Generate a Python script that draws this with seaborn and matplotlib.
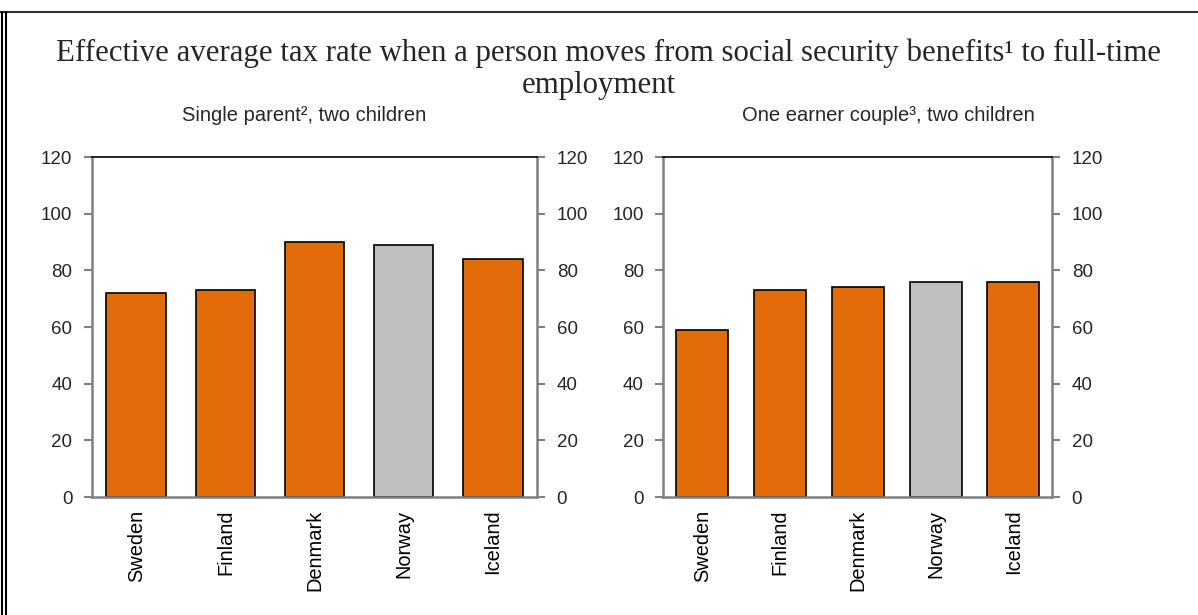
import matplotlib
matplotlib.use("Agg")
import matplotlib.pyplot as plt
from matplotlib.lines import Line2D
import seaborn as sns
import pandas as pd
import numpy as np

countries = ["Sweden", "Finland", "Denmark", "Norway", "Iceland"]
single_parent = [72, 73, 90, 89, 84]
one_earner = [59, 73, 74, 76, 76]
bar_colors = ["#E36C0A", "#E36C0A", "#E36C0A", "#BFBFBF", "#E36C0A"]
yticks = [0, 20, 40, 60, 80, 100, 120]
title_lines = ["Effective average tax rate when a person moves from social security benefits\u00b9 to full-time",
               "employment"]
sub_titles = ["Single parent\u00b2, two children", "One earner couple\u00b3, two children"]

sns.set_style("white")
plt.rcParams['font.family'] = ['Liberation Sans', 'DejaVu Sans']

fig = plt.figure(figsize=(11.98, 6.15), dpi=100)
W, H = 1198, 615
ax1 = fig.add_axes([91.7 / W, 1 - 497 / H, (537.3 - 91.7) / W, (497 - 157) / H])
ax2 = fig.add_axes([663.3 / W, 1 - 497 / H, (1052.3 - 663.3) / W, (497 - 157) / H])

palette = dict(zip(countries, bar_colors))
for ax, vals in [(ax1, single_parent), (ax2, one_earner)]:
    df = pd.DataFrame({"country": countries, "value": vals})
    sns.barplot(data=df, x="country", y="value", hue="country", palette=palette,
                order=countries, hue_order=countries, legend=False,
                width=0.67, edgecolor="black", linewidth=1.2, saturation=1, ax=ax)
    ax.set_xlim(-0.5, len(countries) - 0.5)
    ax.set_ylim(0, 120)
    ax.set_yticks(yticks)
    ax.set_yticklabels([str(v) for v in yticks])
    ax.set_xlabel("")
    ax.set_ylabel("")
    ax.set_xticks(range(len(countries)))
    ax.set_xticklabels(countries, rotation=90)
    ax.set_xticks(np.arange(-0.5, len(countries), 1.0), minor=True)
    ax.tick_params(axis="x", which="major", length=0, pad=9, labelsize=14.4, labelcolor="black")
    ax.tick_params(axis="x", which="minor", length=6, width=1.5, color="#808080", direction="out")
    ax.tick_params(axis="y", which="major", left=True, right=True, labelleft=True, labelright=True,
                   length=6, width=1.5, color="#808080", direction="out", labelsize=13.5, pad=8)
    for side in ["left", "right", "bottom"]:
        ax.spines[side].set_visible(True)
        ax.spines[side].set_color("#808080")
        ax.spines[side].set_linewidth(1.8)
    ax.spines["top"].set_visible(True)
    ax.spines["top"].set_color("black")
    ax.spines["top"].set_linewidth(1.2)
    ax.grid(False)

# subplot titles
fig.text(304 / W, 1 - 121 / H, sub_titles[0], ha="center", va="baseline", fontsize=14.5)
fig.text(888 / W, 1 - 121 / H, sub_titles[1], ha="center", va="baseline", fontsize=14.5)

# main title (two lines)
serif = ["Liberation Serif", "DejaVu Serif"]
fig.text(609 / W, 1 - 60.7 / H, title_lines[0], ha="center", va="baseline", fontsize=22.2, family=serif)
fig.text(599 / W, 1 - 93 / H, title_lines[1], ha="center", va="baseline", fontsize=22.2, family=serif)

# figure frame lines (top and double left edge)
fig.add_artist(Line2D([0, 1], [1 - 11.5 / H, 1 - 11.5 / H], transform=fig.transFigure, color="#333333", lw=1.5))
fig.add_artist(Line2D([2 / W, 2 / W], [0, 1 - 11.5 / H], transform=fig.transFigure, color="black", lw=1.5))
fig.add_artist(Line2D([5.5 / W, 5.5 / W], [0, 1 - 11.5 / H], transform=fig.transFigure, color="black", lw=1.5))

fig.savefig("out.png", dpi=100)
